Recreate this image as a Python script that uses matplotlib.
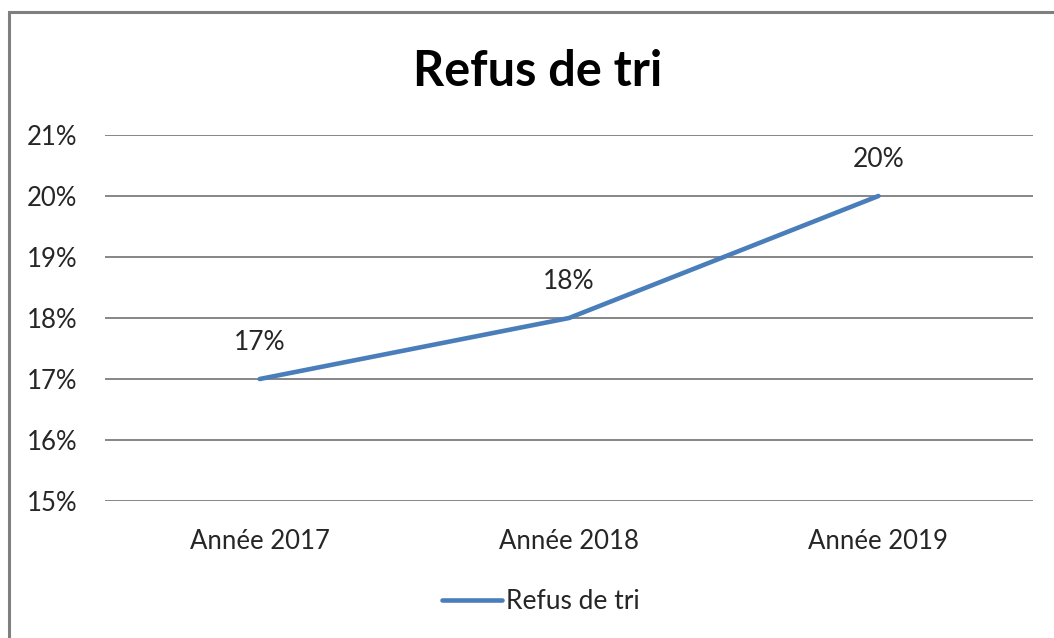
import matplotlib.pyplot as plt
from matplotlib.patches import Rectangle
from matplotlib.ticker import FuncFormatter

plt.rcParams['font.family'] = ['Lato', 'DejaVu Sans']

# ===== données =====
annees = ["Année 2017", "Année 2018", "Année 2019"]
refus = [0.17, 0.18, 0.20]
y_ticks = [0.15, 0.16, 0.17, 0.18, 0.19, 0.20, 0.21]

bleu = "#4A7EBB"
gris = "#868686"
texte = "#262626"

fig = plt.figure(figsize=(10.54, 6.38), dpi=100)
ax = fig.add_axes([0.0996, 0.2147, 0.8806, 0.5737])

x = range(len(annees))
ax.plot(x, refus, color=bleu, lw=3.3, solid_capstyle="round", label="Refus de tri")
for xi, v in zip(x, refus):
    ax.annotate(f"{v*100:.0f}%", (xi, v), xytext=(0, 26), textcoords="offset points",
                ha="center", va="center", fontsize=19, color=texte)

ax.set_xlim(-0.5, len(annees) - 0.5)
ax.set_ylim(0.15, 0.21)
ax.set_yticks(y_ticks)
ax.yaxis.set_major_formatter(FuncFormatter(lambda v, _: f"{v*100:.0f}%"))
ax.set_xticks(list(x))
ax.set_xticklabels(annees)
ax.tick_params(axis="both", length=0, labelsize=18.5, labelcolor=texte)
ax.tick_params(axis="y", pad=20)
ax.tick_params(axis="x", pad=20)
ax.grid(axis="y", color=gris, lw=1.4)
ax.set_axisbelow(True)
for s in ax.spines.values():
    s.set_visible(False)

fig.text(0.51, 0.888, "Refus de tri", ha="center", va="center",
         fontsize=35, fontweight="bold", color="black")

fig.legend(loc="center", bbox_to_anchor=(0.513, 0.057), frameon=False,
           fontsize=19, handlelength=2.3, handletextpad=0.15, labelcolor=texte)

# cadre du graphique (coupé à droite et en bas)
fig.patches.append(Rectangle((9/1054, -0.1), 1.2, 1 - 12/638 + 0.1,
                             transform=fig.transFigure, fill=False,
                             edgecolor="#7f7f7f", lw=2.2))

fig.savefig("out.png", dpi=100)
